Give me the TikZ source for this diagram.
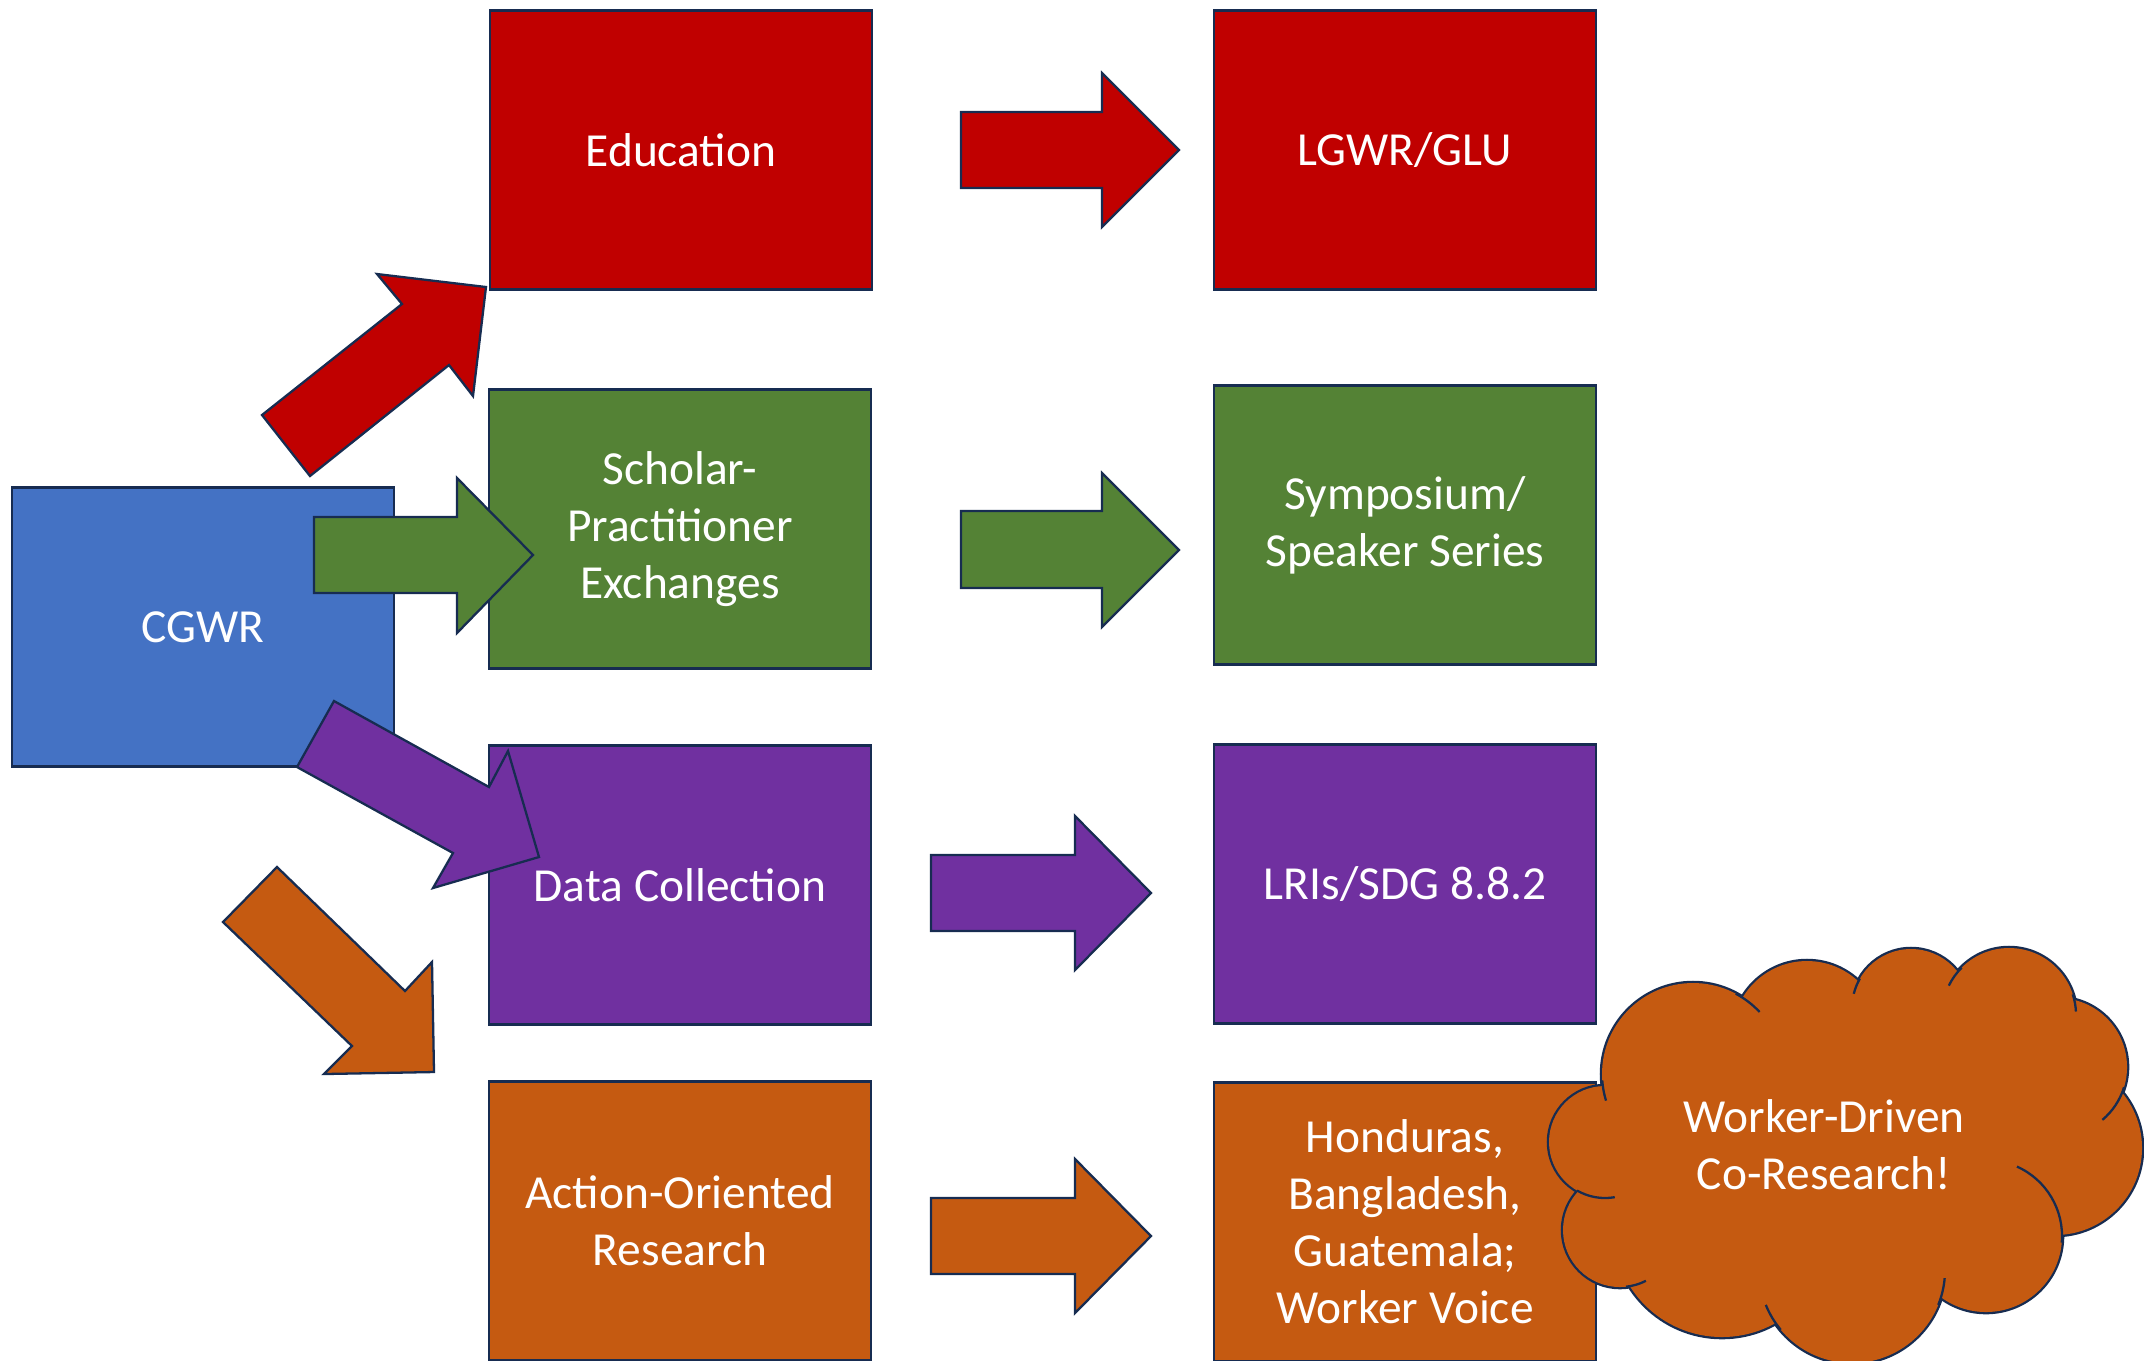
\documentclass[tikz,border=0pt]{standalone}
\usepackage{fontspec}
\setmainfont{Carlito}

\definecolor{edured}{HTML}{C00000}
\definecolor{exgreen}{HTML}{548235}
\definecolor{hubblue}{HTML}{4472C4}
\definecolor{datapurple}{HTML}{7030A0}
\definecolor{actorange}{HTML}{C55A11}
\definecolor{rim}{HTML}{172C51}

\begin{document}
\begin{tikzpicture}[x=0.1mm,y=-0.1mm,
    box/.style={draw=rim,line width=0.65pt,fill=#1,text=white,inner sep=0pt,
      minimum width=38.2mm,minimum height=27.9mm,align=center,
      font=\fontsize{13.5}{16.2}\selectfont},
    blockarrow/.style={draw=rim,line width=0.65pt,fill=#1}]
  \useasboundingbox (0,0) rectangle (2144,1360);

  \node[box=hubblue] (cgwr) at (203,627) {CGWR};
  \node[box=edured] (edu) at (681,150) {Education};
  \node[box=edured] (lgwr) at (1405,150) {LGWR/GLU};
  \node[box=exgreen] (exch) at (680,529) {Scholar-\\Practitioner\\Exchanges};
  \node[box=exgreen] (symp) at (1405,525) {Symposium/\\Speaker Series};
  \node[box=datapurple] (data) at (680,885) {Data Collection};
  \node[box=datapurple] (lri) at (1405,884) {LRIs/SDG 8.8.2};
  \node[box=actorange] (action) at (680,1221) {Action-Oriented\\Research};
  \node[box=actorange] (cases) at (1405,1222) {Honduras,\\Bangladesh,\\Guatemala;\\Worker Voice};

  % arrows out of CGWR
  \draw[blockarrow=edured] (262,415) -- (402,304) -- (377,274) -- (486,287) -- (473,396) -- (449,365) -- (310,476) -- cycle;
  \draw[blockarrow=exgreen] (314,517) -- ++(143,0) -- ++(0,-39) -- ++(76,77) -- ++(-76,78) -- ++(0,-40) -- ++(-143,0) -- cycle;
  \draw[blockarrow=datapurple] (334,701) -- (489,787) -- (508,751) -- (539,857) -- (433,888) -- (453,853) -- (297,767) -- cycle;
  \draw[blockarrow=actorange] (277,867) -- (405,991) -- (432,962) -- (434,1072) -- (324,1074) -- (352,1046) -- (223,922) -- cycle;

  % arrows between the columns
  \draw[blockarrow=edured] (961,112) -- ++(141,0) -- ++(0,-39) -- ++(77,77) -- ++(-77,77) -- ++(0,-39) -- ++(-141,0) -- cycle;
  \draw[blockarrow=exgreen] (961,511) -- ++(141,0) -- ++(0,-38) -- ++(77,77) -- ++(-77,77) -- ++(0,-39) -- ++(-141,0) -- cycle;
  \draw[blockarrow=datapurple] (931,855) -- ++(144,0) -- ++(0,-39) -- ++(76,77) -- ++(-76,77) -- ++(0,-39) -- ++(-144,0) -- cycle;
  \draw[blockarrow=actorange] (931,1198) -- ++(144,0) -- ++(0,-39) -- ++(76,77) -- ++(-76,77) -- ++(0,-39) -- ++(-144,0) -- cycle;

  % cloud: puffs, then fill over the inner strokes, then the short inner arcs
  \foreach \x/\y/\r in {1605/1142/56,1693/1074/91,1807/1036/75,1911/1008/59,2009/1015/67,
      2058/1067/69,2055/1148/87,1986/1236/76,1852/1270/93,1722/1228/109,1620/1230/57}
    \draw[draw=rim,line width=1.3pt,fill=actorange] (\x,\y) circle[radius=\r];
  \foreach \x/\y/\r in {1605/1142/56,1693/1074/91,1807/1036/75,1911/1008/59,2009/1015/67,
      2058/1067/69,2055/1148/87,1986/1236/76,1852/1270/93,1722/1228/109,1620/1230/57}
    \fill[actorange] (\x,\y) circle[radius=\r];
  \fill[actorange] (1605,1142) -- (1693,1074) -- (1807,1036) -- (1911,1008) -- (2009,1015) -- (2058,1067)
    -- (2055,1148) -- (1986,1236) -- (1852,1270) -- (1722,1228) -- (1620,1230) -- cycle;
  \foreach \x/\y/\r/\a/\b in {1693/1074/91/-62/-43,1693/1074/91/176/163,1605/1142/56/120/80,
      1620/1230/57/84/63,1852/1270/93/140/158,1852/1270/93/22/5,1986/1236/76/5/-66,
      2058/1067/69/17/50,2009/1015/67/-18/-3,2009/1015/67/225/206,1911/1008/59/210/194}
    \draw[rim,line width=0.65pt] (\x,\y) ++(\a:\r) arc[start angle=\a,end angle=\b,radius=\r];
  \node[text=white,align=center,font=\fontsize{13.5}{16.2}\selectfont] (cloud) at (1824,1145) {Worker-Driven\\Co-Research!};
\end{tikzpicture}
\end{document}
